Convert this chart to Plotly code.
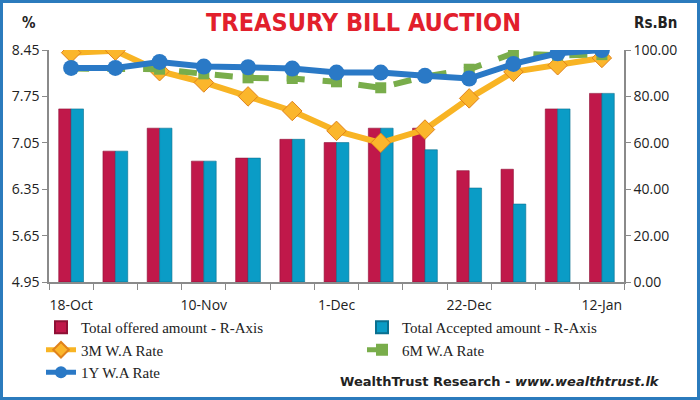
import plotly.graph_objects as go

dates = ["18-Oct", "25-Oct", "1-Nov", "10-Nov", "15-Nov", "22-Nov", "1-Dec",
         "6-Dec", "13-Dec", "22-Dec", "27-Dec", "5-Jan", "12-Jan"]
offered = [74.6, 56.4, 66.3, 52.1, 53.4, 61.5, 60.1, 66.3, 66.3, 48.0, 48.6, 74.6, 81.3]
accepted = [74.6, 56.4, 66.3, 52.1, 53.4, 61.5, 60.1, 66.3, 57.0, 40.5, 33.6, 74.6, 81.3]
rate_3m = [8.41, 8.44, 8.13, 7.96, 7.75, 7.53, 7.23, 7.05, 7.25, 7.72, 8.12, 8.22, 8.33]
rate_6m = [8.17, 8.17, 8.16, 8.09, 8.03, 8.02, 7.97, 7.88, 8.05, 8.16, 8.40, 8.37, 8.38]
rate_1y = [8.18, 8.18, 8.27, 8.20, 8.19, 8.17, 8.11, 8.11, 8.06, 8.02, 8.24, 8.40, 8.45]
label_idx = [0, 3, 6, 9, 12]

x = list(range(len(dates)))

fig = go.Figure()
fig.add_trace(go.Bar(x=x, y=offered, name="Total offered amount - R-Axis", legend="legend",
                     marker=dict(color="#c0184a", line=dict(color="#8e1035", width=0.6)), yaxis="y"))
fig.add_trace(go.Bar(x=x, y=accepted, name="Total Accepted amount - R-Axis", legend="legend2",
                     marker=dict(color="#0a9cc6", line=dict(color="#0a6f8f", width=0.6)), yaxis="y"))
fig.add_trace(go.Scatter(x=x, y=rate_3m, name="3M W.A Rate", yaxis="y2", mode="lines+markers",
                         legend="legend",
                         line=dict(color="#f8b424", width=6),
                         marker=dict(symbol="diamond", size=15, color="#fbb62c",
                                     line=dict(color="#e0821c", width=1))))
fig.add_trace(go.Scatter(x=x, y=rate_6m, name="6M W.A Rate", yaxis="y2", mode="lines+markers",
                         legend="legend2",
                         line=dict(color="#79ad4b", width=6, dash="dash"),
                         marker=dict(symbol="square", size=11, color="#79ad4b")))
fig.add_trace(go.Scatter(x=x, y=rate_1y, name="1Y W.A Rate", yaxis="y2", mode="lines+markers",
                         legend="legend",
                         line=dict(color="#2a79c6", width=6),
                         marker=dict(symbol="circle", size=16, color="#2a79c6")))

L, R, T, B = 49, 76, 50, 118
W, H = 700, 400
pw, ph = W - L - R, H - T - B

def px_x(p):
    return (p - L) / pw

def px_y(p):
    return (H - B - p) / ph

tickfont = dict(family="Open Sans, Noto Sans, sans-serif", size=14, color="#222")
legfont = dict(family="Liberation Serif, Times New Roman, serif", size=15, color="#222")

fig.update_layout(
    width=W, height=H,
    margin=dict(l=L, r=R, t=T, b=B, pad=0, autoexpand=False),
    paper_bgcolor="white", plot_bgcolor="white",
    barmode="group", bargap=0.44, bargroupgap=0,
    showlegend=True,
    legend=dict(orientation="v", x=px_x(41), y=px_y(311), xanchor="left", yanchor="top",
                font=legfont, tracegroupgap=0, itemsizing="constant",
                bgcolor="rgba(0,0,0,0)", borderwidth=0),
    legend2=dict(orientation="v", x=px_x(362), y=px_y(311), xanchor="left", yanchor="top",
                 font=legfont, tracegroupgap=0, itemsizing="constant",
                 bgcolor="rgba(0,0,0,0)", borderwidth=0),
    xaxis=dict(range=[-0.5, len(dates) - 0.5], tickmode="array",
               tickvals=label_idx, ticktext=[dates[i] for i in label_idx],
               ticks="", showline=True, linecolor="#8a8a8a", linewidth=1.5,
               showgrid=False, zeroline=False, tickfont=tickfont, ticklabelstandoff=9,
               minor=dict(tickmode="array", tickvals=[i - 0.5 for i in range(len(dates) + 1)],
                          ticks="outside", ticklen=6, tickcolor="#8a8a8a", tickwidth=1.3)),
    yaxis=dict(side="right", range=[0, 100], tickmode="array",
               tickvals=[0, 20, 40, 60, 80, 100], tickformat=".2f",
               showline=True, linecolor="#8a8a8a", linewidth=1.5, ticks="outside",
               ticklen=5, tickcolor="#8a8a8a", showgrid=False, zeroline=False,
               tickfont=tickfont),
    yaxis2=dict(side="left", overlaying="y", range=[4.95, 8.45], tickmode="array",
                tickvals=[4.95, 5.65, 6.35, 7.05, 7.75, 8.45], tickformat=".2f",
                showline=True, linecolor="#8a8a8a", linewidth=1.5, ticks="outside",
                ticklen=5, tickcolor="#8a8a8a", showgrid=False, zeroline=False,
                tickfont=tickfont),
)

fig.add_shape(type="rect", xref="paper", yref="paper",
              x0=px_x(1.5), x1=px_x(W - 1.5), y0=px_y(H - 1.5), y1=px_y(1.5),
              line=dict(color="#2b7bbd", width=3), fillcolor="rgba(0,0,0,0)", layer="above")

narrow = "Liberation Sans Narrow, DejaVu Sans Condensed, Arial Narrow, Liberation Sans, sans-serif"
fig.add_annotation(text="<b>TREASURY BILL AUCTION</b>", xref="paper", yref="paper",
                   x=px_x(363), y=px_y(22), xanchor="center", yanchor="middle", showarrow=False,
                   font=dict(family=narrow, size=25, color="#e2202c"))
fig.add_annotation(text="<b>%</b>", xref="paper", yref="paper",
                   x=px_x(29), y=px_y(23), xanchor="center", yanchor="middle", showarrow=False,
                   font=dict(family=narrow, size=15, color="#222"))
fig.add_annotation(text="<b>Rs.Bn</b>", xref="paper", yref="paper",
                   x=px_x(655), y=px_y(23), xanchor="center", yanchor="middle", showarrow=False,
                   font=dict(family=narrow, size=15, color="#222"))
fig.add_annotation(text="<b>WealthTrust Research - <i>www.wealthtrust.lk</i></b>",
                   xref="paper", yref="paper", x=px_x(662), y=px_y(382),
                   xanchor="right", yanchor="middle", showarrow=False,
                   font=dict(family="DejaVu Sans, Liberation Sans, sans-serif", size=13, color="#222"))

fig.write_html("out.html", config={"displayModeBar": False},
               post_script="document.body.style.margin='0px';document.body.style.overflow='hidden';")
